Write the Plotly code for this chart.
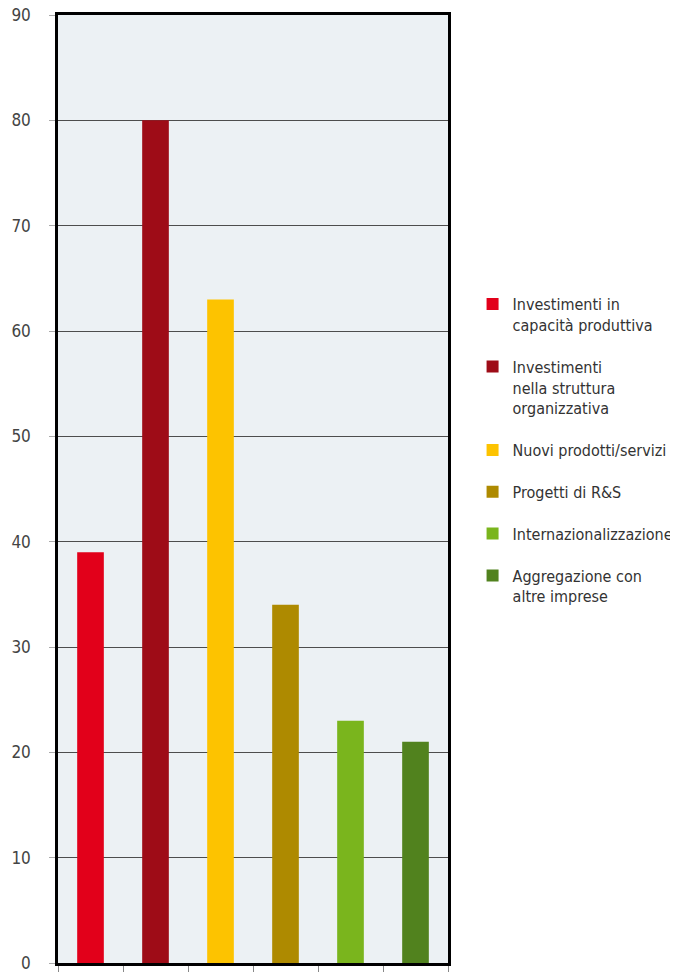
import plotly.graph_objects as go

categories = [
    "Investimenti in<br>capacità produttiva",
    "Investimenti<br>nella struttura<br>organizzativa",
    "Nuovi prodotti/servizi",
    "Progetti di R&S",
    "Internazionalizzazione",
    "Aggregazione con<br>altre imprese",
]
values = [39, 80, 63, 34, 23, 21]
colors = ["#e2001a", "#9e0c17", "#fdc300", "#ae8a00", "#7ab51d", "#51821e"]
y_ticks = [0, 10, 20, 30, 40, 50, 60, 70, 80, 90]

FONT = "DejaVu Sans Condensed, DejaVu Sans, sans-serif"

fig = go.Figure()
for i, (cat, val, col) in enumerate(zip(categories, values, colors)):
    fig.add_trace(go.Bar(
        x=[cat], y=[val], name=cat,
        marker=dict(color=col, line=dict(width=0)),
        width=0.41, legendgroup=f"g{i}",
    ))

fig.update_layout(
    width=678, height=972,
    margin=dict(l=50, r=234, t=7, b=17),
    paper_bgcolor="white",
    plot_bgcolor="#ecf1f4",
    barmode="overlay",
    font=dict(family=FONT, size=16, color="#3a3a3a"),
    showlegend=True,
    legend=dict(
        x=1.063, y=0.713, xanchor="left", yanchor="top",
        traceorder="grouped", tracegroupgap=18, valign="top",
        font=dict(family=FONT, size=16, color="#333333"),
        bgcolor="rgba(0,0,0,0)",
    ),
    xaxis=dict(
        type="category", categoryorder="array", categoryarray=categories,
        showticklabels=False, tickson="boundaries",
        ticks="outside", ticklen=6, tickcolor="#888888", tickwidth=1,
        showgrid=False, showline=True, linecolor="black", linewidth=2.5,
        mirror=True, zeroline=False, automargin=False,
    ),
    yaxis=dict(
        range=[0, 90], tickvals=y_ticks,
        ticks="outside", ticklen=6, tickcolor="#aaaaaa", tickwidth=1,
        ticklabelstandoff=15, ticklabeloverflow="allow",
        showgrid=True, gridcolor="#4d4d4d", gridwidth=1,
        showline=True, linecolor="black", linewidth=2.5, mirror=True,
        zeroline=False, automargin=False,
        tickfont=dict(family=FONT, size=17, color="#444444"),
    ),
)

fig.write_html("out.html")
